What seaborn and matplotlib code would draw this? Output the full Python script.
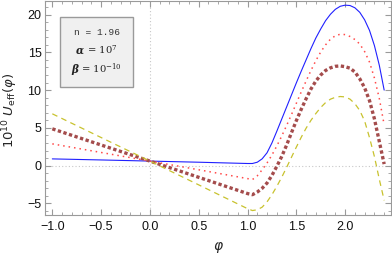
import numpy as np
import pandas as pd
import matplotlib
matplotlib.use("Agg")
import matplotlib.pyplot as plt
import seaborn as sns
from matplotlib.offsetbox import TextArea, HPacker, VPacker, AnchoredOffsetbox
from matplotlib.ticker import MultipleLocator

phi = [-1.0, -0.5, 0.0, 0.5, 1.0, 1.05, 1.10, 1.15, 1.20, 1.25, 1.30, 1.35, 1.40,
       1.45, 1.50, 1.55, 1.60, 1.65, 1.70, 1.75, 1.80, 1.85, 1.90, 1.95, 2.00,
       2.05, 2.10, 2.15, 2.20, 2.25, 2.30, 2.35, 2.40]

u_blue = [0.89, 0.75, 0.60, 0.45, 0.28, 0.28, 0.45, 0.90, 1.70, 3.00, 4.55, 6.15, 7.75,
          9.35, 10.95, 12.50, 14.00, 15.50, 16.90, 18.10, 19.20, 20.05, 20.70, 21.10, 21.25,
          21.20, 20.90, 20.30, 19.30, 17.90, 15.90, 13.30, 10.00]

u_red = [2.88, 1.74, 0.60, -0.55, -1.72, -1.85, -1.35, -0.55, 0.35, 1.40, 2.60, 3.90, 5.30,
         6.75, 8.25, 9.75, 11.20, 12.60, 13.90, 15.05, 16.00, 16.75, 17.20, 17.40, 17.35,
         17.10, 16.70, 16.10, 15.10, 13.70, 11.60, 8.90, 5.40]

u_brown = [4.87, 2.73, 0.60, -1.55, -3.70, -3.85, -3.50, -3.00, -2.30, -1.30, -0.10, 1.20, 2.70,
           4.35, 5.95, 7.45, 8.85, 10.15, 11.20, 12.00, 12.60, 12.95, 13.15, 13.20, 13.10,
           12.90, 12.40, 11.50, 10.30, 8.60, 6.20, 3.20, 0.20]

u_yellow = [6.86, 3.72, 0.60, -2.55, -5.70, -5.95, -5.85, -5.50, -4.80, -3.85, -2.75, -1.55, -0.25,
            1.10, 2.45, 3.75, 4.95, 6.00, 6.90, 7.70, 8.35, 8.80, 9.05, 9.15, 9.10,
            8.80, 8.20, 7.30, 5.90, 3.70, 1.20, -1.80, -4.60]

x_ticks = [-1.0, -0.5, 0.0, 0.5, 1.0, 1.5, 2.0]
y_ticks = [-5, 0, 5, 10, 15, 20]

sns.set_style("ticks")
plt.rcParams['font.family'] = ['Liberation Sans', 'DejaVu Sans']

fig = plt.figure(figsize=(3.92, 2.56), dpi=100)
ax = fig.add_axes([45/392, 1 - 215/256, 346/392, 214/256])

frame_col = "#9a9a9a"

# reference grid lines
ax.axvline(0, color="#c8c8c8", lw=0.8, ls=(0, (1, 2)), zorder=0)
ax.axhline(0, color="#c8c8c8", lw=0.8, ls=(0, (1, 2)), zorder=0)

series = [
    (u_blue, dict(color="#2020ff", lw=0.8, linestyle="-")),
    (u_red, dict(color="#ff4a4a", lw=1.1, linestyle=(0, (1, 2.6)))),
    (u_brown, dict(color="#a44c4c", lw=2.4, linestyle=(0, (1, 0.75)))),
    (u_yellow, dict(color="#c8c22e", lw=0.9, linestyle=(0, (4.5, 3.5)))),
]
for vals, kw in series:
    df = pd.DataFrame({"phi": phi, "U": vals})
    sns.lineplot(data=df, x="phi", y="U", ax=ax, **kw)

ax.set_xlim(-1.075, 2.47)
ax.set_ylim(-6.54, 21.8)
ax.set_xticks(x_ticks)
ax.set_xticklabels([f"{t:.1f}".replace("-", "\u2212") for t in x_ticks])
ax.set_yticks(y_ticks)
ax.set_yticklabels([str(t).replace("-", "\u2212") for t in y_ticks])
ax.xaxis.set_minor_locator(MultipleLocator(0.1))
ax.yaxis.set_minor_locator(MultipleLocator(1))
ax.tick_params(which="both", direction="in", top=True, right=True, color=frame_col,
               labelsize=9, labelcolor="#111111")
ax.tick_params(which="major", length=4, width=0.8)
ax.tick_params(which="minor", length=2, width=0.6)
ax.tick_params(axis="x", pad=4)
ax.tick_params(axis="y", pad=2.5)
for s in ax.spines.values():
    s.set_color(frame_col)
    s.set_linewidth(0.8)

ax.set_xlabel(r"$\varphi$", fontsize=10, math_fontfamily="dejavusans")
ax.xaxis.set_label_coords(0.5, -0.115)
ax.set_ylabel(r"$10^{10}$ $U_{\mathrm{eff}}(\varphi)$", fontsize=9.5,
              math_fontfamily="dejavusans")
ax.yaxis.set_label_coords(-0.072, 0.49)

# parameter box
mono = dict(fontfamily="Liberation Mono", fontsize=6.8, color="#333333")
greek = dict(fontfamily="DejaVu Serif", fontsize=7.6, style="italic", weight="bold", color="#222222")
rest = dict(fontfamily="DejaVu Serif", fontsize=7.2, color="#222222", math_fontfamily="dejavuserif")

row1 = TextArea("n = 1.96", textprops=mono)
row2 = HPacker(children=[TextArea("\u03b1", textprops=greek),
                         TextArea(r" = $10^{7}$", textprops=rest)], align="baseline", pad=0, sep=0)
row3 = HPacker(children=[TextArea("\u03b2", textprops=greek),
                         TextArea(r" = $10^{-10}$", textprops=rest)], align="baseline", pad=0, sep=0)
box = VPacker(children=[row1, row2, row3], align="center", pad=0, sep=4.2)
anch = AnchoredOffsetbox(loc="upper left", child=box, pad=0.8, borderpad=0,
                         prop=dict(size=10), frameon=True,
                         bbox_to_anchor=(60/392, 1 - 17/256),
                         bbox_transform=fig.transFigure)
anch.patch.set_facecolor("#f0f0f0")
anch.patch.set_edgecolor("#9a9a9a")
anch.patch.set_linewidth(1.0)
anch.patch.set_boxstyle("square", pad=0)
ax.add_artist(anch)

fig.savefig("out.png", dpi=100)
